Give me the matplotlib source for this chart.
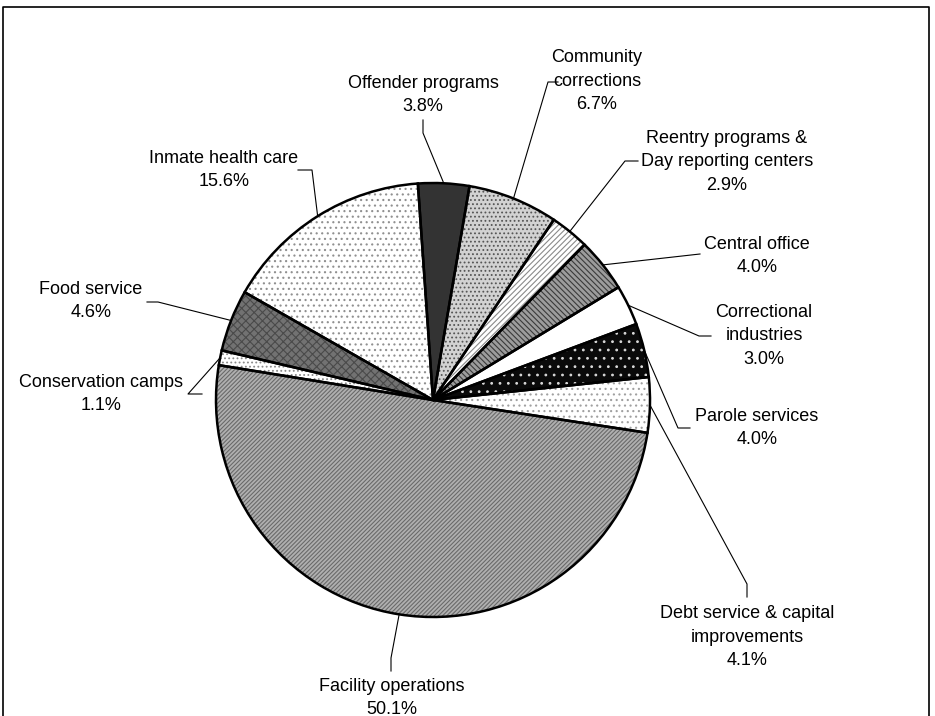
import numpy as np
import matplotlib.pyplot as plt

plt.rcParams['font.family'] = ['Liberation Sans', 'DejaVu Sans']
plt.rcParams['hatch.linewidth'] = 0.8

# budget shares, clockwise from the top
labels = ["Offender programs", "Community\ncorrections", "Reentry programs &\nDay reporting centers",
          "Central office", "Correctional\nindustries", "Parole services",
          "Debt service & capital\nimprovements", "Facility operations", "Conservation camps",
          "Food service", "Inmate health care"]
shares = [3.8, 6.7, 2.9, 4.0, 3.0, 4.0, 4.1, 50.1, 1.1, 4.6, 15.6]

# fill colour, hatch, hatch colour for each slice (greyscale print patterns)
faces   = ['#333333', '#d2d2d2', '#ffffff', '#9c9c9c', '#ffffff', '#0a0a0a',
           '#ffffff', '#b0b0b0', '#ffffff', '#727272', '#ffffff']
hatches = [None, '....', '//////', '\\\\\\\\\\\\', None, '..',
           '...', '////////', '....', 'xxxx', '...']
hcolors = ['#333333', '#555555', '#8a8a8a', '#3a3a3a', '#ffffff', '#d8d8d8',
           '#a0a0a0', '#6a6a6a', '#8a8a8a', '#4a4a4a', '#909090']

W, H = 935, 716
cx, cy, R = 433, H - 400, 217

# label centres and elbow points of the leader lines (pixel coords, y down)
label_pos = [(423, 95), (597, 81), (727, 162), (757, 256), (764, 336), (757, 428),
             (747, 637), (392, 698), (101, 394), (91, 301), (224, 170)]
elbows = [[(423, 120), (423, 133)], [(558, 82), (548, 82)], [(638, 161), (625, 161)],
          [(700, 254)], [(711, 336), (699, 336)], [(690, 428), (678, 428)],
          [(747, 597), (747, 584)], [(391, 671), (391, 658)], [(202, 394), (188, 394)],
          [(147, 302), (158, 302)], [(298, 170), (312, 170)]]

fig = plt.figure(figsize=(W / 100, H / 100), dpi=100)
ax = fig.add_axes([0, 0, 1, 1])

# patterned fills first, outlines on top
fills, _ = ax.pie(shares, startangle=94, counterclock=False, center=(cx, cy), radius=R,
                  frame=True)
for w, fc, ht, hc in zip(fills, faces, hatches, hcolors):
    w.set_facecolor(fc)
    w.set_edgecolor(hc)
    w.set_linewidth(0)
    if ht:
        w.set_hatch(ht)

outl, _ = ax.pie(shares, startangle=94, counterclock=False, center=(cx, cy), radius=R,
                 frame=True, wedgeprops=dict(facecolor='none', edgecolor='black', linewidth=1.8))
ax.set_xlim(0, W)
ax.set_ylim(0, H)
ax.set_aspect('equal')
ax.axis('off')

for w, lab, v, (tx, ty), pts in zip(outl, labels, shares, label_pos, elbows):
    ax.text(tx, H - ty, f"{lab}\n{v:.1f}%", ha='center', va='center', fontsize=13,
            linespacing=1.5, color='black')
    mid = np.deg2rad((w.theta1 + w.theta2) / 2)
    xs = [p[0] for p in pts] + [cx + R * np.cos(mid)]
    ys = [H - p[1] for p in pts] + [cy + R * np.sin(mid)]
    ax.plot(xs, ys, color='black', lw=0.8)

# border round the chart area (runs past the bottom edge)
ax.plot([3, 3, 929, 929], [-20, H - 7, H - 7, -20], color='black', lw=1.2,
        clip_on=False)

fig.savefig('out.png', dpi=100)
